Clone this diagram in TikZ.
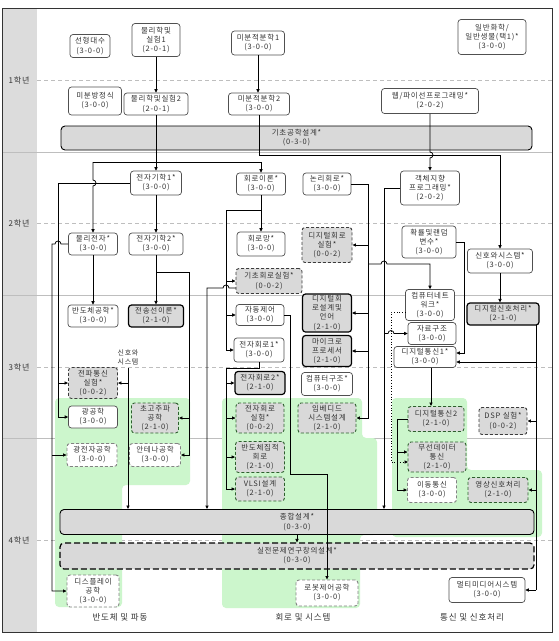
\documentclass[tikz,border=0pt]{standalone}
\usepackage{fontspec}
\setmainfont{Noto Sans CJK KR}[LetterSpace=10]
\usetikzlibrary{arrows.meta}
\definecolor{txt}{RGB}{50,50,50}
\definecolor{bdr}{RGB}{80,80,80}
\definecolor{dsh}{RGB}{60,60,60}
\definecolor{dgr}{RGB}{45,95,45}
\definecolor{lgb}{RGB}{130,130,130}
\definecolor{boxgray}{RGB}{217,217,217}
\definecolor{colgray}{RGB}{220,220,220}
\definecolor{sepc}{RGB}{190,190,190}
\definecolor{grn}{RGB}{204,246,204}
\begin{document}
\begin{tikzpicture}[x=1pt,y=-1pt,
  every node/.style={font=\fontsize{7.5}{9.2}\selectfont, text=txt},
  bx/.style={rounded corners=3pt, align=center, inner sep=0.5pt, line width=0.7pt},
  wbox/.style={bx, draw=bdr, fill=white},
  gbox/.style={bx, draw=black, fill=boxgray, line width=1.2pt},
  dgbox/.style={bx, draw=dsh, fill=boxgray, dash pattern=on 3pt off 2pt, line width=0.9pt},
  dggbox/.style={bx, draw=dgr, fill=boxgray, dash pattern=on 3pt off 2pt, line width=0.9pt},
  dwbox/.style={bx, draw=lgb, fill=white, dash pattern=on 3pt off 2pt, line width=0.9pt},
  barbox/.style={rounded corners=4pt, align=center, draw=black, fill=boxgray, line width=0.9pt},
  dbarbox/.style={rounded corners=4pt, align=center, draw=black, fill=boxgray, line width=1.2pt, dash pattern=on 6pt off 3pt},
  yearlbl/.style={font=\fontsize{8}{9}\selectfont, text=black!80},
  trklbl/.style={font=\fontsize{8.5}{9}\selectfont, text=black!80},
  ln/.style={line width=0.75pt, black},
  arr/.style={ln, -{Triangle[length=3.5pt,width=3.2pt]}}
]
\useasboundingbox (0,0) rectangle (559,641);
\fill[white] (0,0) rectangle (559,641);
% left column and grid
\fill[colgray] (2,8) rectangle (37,632);
\foreach \yy in {152,295,438} \draw[sepc, line width=0.8pt] (2,\yy) -- (552,\yy);
\foreach \yy in {80,223,367,540} \draw[sepc, line width=0.6pt, dash pattern=on 4pt off 3pt] (37,\yy) -- (552,\yy);
\draw[line width=1pt, black!80] (2,8) rectangle (552,632);
\node[yearlbl] (y1) at (19,80) {1학년};
\node[yearlbl] (y2) at (19,223) {2학년};
\node[yearlbl] (y3) at (19,367) {3학년};
\node[yearlbl] (y4) at (19,540) {4학년};
% green areas
\fill[grn, rounded corners=4pt] (55,398) -- (190,398) -- (190,485) -- (122,485) -- (122,607) -- (55,607) -- cycle;
\fill[grn, rounded corners=4pt] (222,398) -- (362,398) -- (362,438) -- (377,438) -- (377,535) -- (360,535) -- (360,608) -- (222,608) -- cycle;
\fill[grn, rounded corners=4pt] (392,398) -- (467,398) -- (467,470) -- (542,470) -- (542,537) -- (392,537) -- cycle;
% ---------- year 1
\node[wbox, minimum width=40, minimum height=23] (n11) at (90,46) {선형대수\\(3-0-0)};
\node[wbox, minimum width=48, minimum height=33] (n12) at (156,40) {물리학및\\실험1\\(2-0-1)};
\node[wbox, minimum width=53, minimum height=24] (n13) at (258,43) {미분적분학1\\(3-0-0)};
\node[wbox, minimum width=68, minimum height=35] (n14) at (492,37) {일반화학/\\일반생물(택1)*\\(3-0-0)};
\node[wbox, minimum width=53, minimum height=28] (n15) at (95,101) {미분방정식\\(3-0-0)};
\node[wbox, minimum width=64, minimum height=22] (n16) at (156,104) {물리학및실험2\\(2-0-1)};
\node[wbox, minimum width=61, minimum height=22] (n17) at (259,104) {미분적분학2\\(3-0-0)};
\node[wbox, minimum width=97, minimum height=25] (n18) at (430,101) {웹/파이선프로그래밍*\\(2-0-2)};
\node[barbox, minimum width=471, minimum height=24] (bar1) at (296.5,138) {기초공학설계*\\(0-3-0)};
% ---------- year 2
\node[wbox, minimum width=51, minimum height=24] (e1) at (156,183) {전자기학1*\\(3-0-0)};
\node[wbox, minimum width=49, minimum height=22] (e2) at (93,244) {물리전자*\\(3-0-0)};
\node[wbox, minimum width=54, minimum height=22] (e3) at (156,244) {전자기학2*\\(3-0-0)};
\node[wbox, minimum width=49, minimum height=22] (c1) at (261,184) {회로이론*\\(3-0-0)};
\node[wbox, minimum width=48, minimum height=22] (c2) at (327,184) {논리회로*\\(3-0-0)};
\node[wbox, minimum width=48, minimum height=24] (c3) at (261,244) {회로망*\\(3-0-0)};
\node[dgbox, minimum width=50, minimum height=35] (c4) at (327,245) {디지털회로\\실험*\\(0-0-2)};
\node[dgbox, minimum width=66, minimum height=25] (c5) at (269,281) {기초회로실험*\\(0-0-2)};
\node[wbox, minimum width=59, minimum height=34] (s1) at (430,188) {객체지향\\프로그래밍*\\(2-0-2)};
\node[wbox, minimum width=54, minimum height=32] (s2) at (429,242) {확률및랜덤\\변수*\\(3-0-0)};
\node[wbox, minimum width=65, minimum height=24] (s3) at (500,261) {신호와시스템*\\(3-0-0)};
% ---------- year 3
\node[wbox, minimum width=50, minimum height=22] (e4) at (93,316) {반도체공학*\\(3-0-0)};
\node[gbox, minimum width=55, minimum height=22] (e5) at (156,316) {전송선이론*\\(2-1-0)};
\node[wbox, minimum width=48, minimum height=21] (c6) at (260,315) {자동제어\\(3-0-0)};
\node[gbox, minimum width=49, minimum height=38] (c7) at (327,313) {디지털회\\로설계및\\언어\\(2-1-0)};
\node[wbox, minimum width=49, minimum height=31] (s4) at (430,305) {컴퓨터네트\\워크*\\(3-0-0)};
\node[gbox, minimum width=72, minimum height=22] (s5) at (503,314) {디지털신호처리*\\(2-1-0)};
\node[wbox, minimum width=48, minimum height=22] (s6) at (432,333.5) {자료구조\\(3-0-0)};
\node[wbox, minimum width=62, minimum height=21] (s7) at (425,357) {디지털통신1*\\(3-0-0)};
\node[wbox, minimum width=50, minimum height=24] (c8) at (259,350) {전자회로1*\\(3-0-0)};
\node[gbox, minimum width=49, minimum height=31] (c9) at (327,351) {마이크로\\프로세서\\(2-1-0)};
\node[dgbox, minimum width=49, minimum height=31] (e6) at (93,383) {전파통신\\실험*\\(0-0-2)};
\node[gbox, minimum width=50, minimum height=23] (c10) at (260,383) {전자회로2*\\(2-1-0)};
\node[wbox, minimum width=51, minimum height=23] (c11) at (327,384) {컴퓨터구조*\\(3-0-0)};
\node[wbox, minimum width=49, minimum height=22] (e7) at (93,417) {광공학\\(3-0-0)};
\node[dggbox, minimum width=47, minimum height=30] (e8) at (155,418) {초고주파\\공학\\(2-1-0)};
\node[dggbox, minimum width=48, minimum height=30] (c12) at (260,418) {전자회로\\실험*\\(0-0-2)};
\node[dggbox, minimum width=58, minimum height=30] (c13) at (327,418) {임베디드\\시스템설계\\(2-1-0)};
\node[dggbox, minimum width=56, minimum height=25] (s8) at (436,419) {디지털통신2\\(2-1-0)};
\node[dgbox, minimum width=48, minimum height=27] (s9) at (503,421) {DSP 실험*\\(0-0-2)};
% ---------- year 4
\node[dwbox, minimum width=50, minimum height=23] (e9) at (92,455) {광전자공학\\(3-0-0)};
\node[dwbox, minimum width=51, minimum height=23] (e10) at (155,455) {안테나공학\\(3-0-0)};
\node[dggbox, minimum width=49, minimum height=31] (c14) at (260,457) {반도체집적\\회로\\(2-1-0)};
\node[dggbox, minimum width=58, minimum height=30] (s10) at (437,457) {무선데이터\\통신\\(2-1-0)};
\node[dggbox, minimum width=49, minimum height=24] (c15) at (260,489) {VLSI설계\\(2-1-0)};
\node[dwbox, minimum width=49, minimum height=25] (s11) at (432,490) {이동통신\\(3-0-0)};
\node[dggbox, minimum width=60, minimum height=25] (s12) at (498,490) {영상신호처리\\(2-1-0)};
\node[barbox, minimum width=474, minimum height=25] (bar2) at (297,522) {종합설계*\\(0-3-0)};
\node[dbarbox, minimum width=474, minimum height=26] (bar3) at (297,556) {실전문제연구창의설계*\\(0-3-0)};
\node[dwbox, minimum width=52, minimum height=32] (e11) at (93,591) {디스플레이\\공학\\(3-0-0)};
\node[dwbox, minimum width=62, minimum height=26] (c16) at (327,593) {로봇제어공학\\(3-0-0)};
\node[wbox, minimum width=76, minimum height=25] (s13) at (487,590) {멀티미디어시스템\\(3-0-0)};
% labels
\node[font=\fontsize{7}{9}\selectfont, align=center] (sslbl) at (128,357) {신호와\\시스템};
\node[trklbl] (t1) at (120,617) {반도체 및 파동};
\node[trklbl] (t2) at (303,617) {회로 및 시스템};
\node[trklbl] (t3) at (472,617) {통신 및 신호처리};
% junction coordinates
\coordinate (j207) at (207,288);
\coordinate (j384) at (384,188);
\coordinate (j431) at (431,367.5);
% ---------- connectors
\draw[arr] (n12.south) -- (n12.south |- n16.north);
\draw[arr] (n13.south) -- (n13.south |- n17.north);
\draw[arr] (n16.south) -- (e1.north);
\draw[ln] (93,162) -- (261,162);
\draw[arr] (93,162) -- (93,180) arc(-90:90:3) -- (e2.north);
\draw[arr] (261,162) -- (c1.north);
\draw[arr] (n17.south) -- (259,155) -- (500,155) -- (s3.north);
\draw[arr] (n18.south) -- (430,152) arc(-90:90:3) -- (s1.north);
\draw[arr] (e1.west) -- (58,183) |- (e7.west);
\draw[arr] (58,383) -- (e6.west);
\draw[arr] (e1.south) -- (e3.north);
\draw[arr] (e2.west) -- (61,244) arc(0:-180:3) -- (52,244) |- (e11.west);
\draw[arr] (52,455) -- (e9.west);
\draw[arr] (e2.south) -- (e4.north);
\draw[arr] (e3.south) -- (e5.north);
\draw[arr] (156,272) -- (189,272) |- (e10.east);
\draw[arr] (189,418) -- (e8.east);
\draw[arr] (c1.south) -- (c3.north);
\draw[arr] (261,210) -- (226,210) |- (c8.west);
\draw[arr] (226,281) -- (c5.west);
\draw[arr] (226,315) -- (c6.west);
\draw[arr] (236,288) -- (229,288) arc(0:-180:3) -- (j207) -- (j207 |- bar2.north);
\draw[arr] (c8.south) -- (259,368) -- (226,368) |- (c15.west);
\draw[arr] (226,383) -- (c10.west);
\draw[arr] (226,418) -- (c12.west);
\draw[arr] (226,457) -- (c14.west);
\draw[arr] (c6.east) -- (290,315) -- (290,474) -- (327,474) -- (c16.north);
\draw[arr] (c2.east) -- (368,184) |- (c13.east);
\draw[arr] (368,245) -- (c4.east);
\draw[arr] (368,313) -- (c7.east);
\draw[arr] (368,351) -- (c9.east);
\draw[arr] (368,264) -- (381,264) arc(180:360:3) -| (s4.north);
\draw[arr] (384,333.5) -- (388,333.5) arc(180:360:3) -- (s6.west);
\draw[arr] (s1.west) -- (j384) -- (j384 |- bar2.north);
\draw[arr, dotted, line width=0.9pt] (405.5,312) -- (391,312) -- (391,462) -- (408,462);
\draw[arr] (s2.east) -- (464,242) |- ([yshift=4]s7.east);
\draw[arr] (s3.south) -- (s3.south |- s5.north);
\draw[ln] (536,325) -- (536,590);
\draw[arr] (536,362) -- ([yshift=-5]s7.east);
\draw[arr] (536,421) -- (s9.east);
\draw[arr] (536,490) -- (s12.east);
\draw[arr] (536,590) -- (s13.east);
\draw[arr] (j431) -- (j431 |- s8.north);
\draw[arr] (s8.west) -- (397,419) |- (s11.west);
\draw[arr] (397,452) -- ([yshift=5]s10.west);
\draw[arr] (sslbl.south) -- (sslbl.south |- bar2.north);
\draw[arr] (128,383) -- (e6.east);
\draw[arr] (bar2.south) -- (bar3.north);
\end{tikzpicture}
\end{document}
